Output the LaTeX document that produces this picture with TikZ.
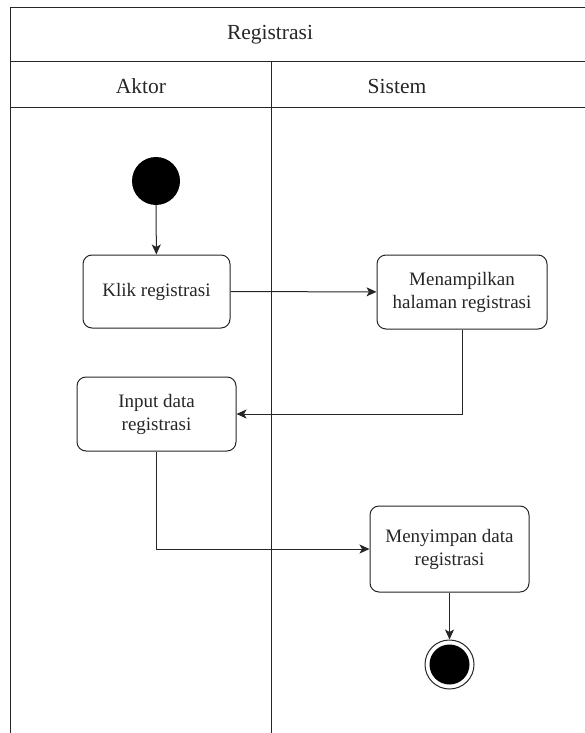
\documentclass[tikz,border=0pt]{standalone}
\usepackage{fontspec}
\setmainfont{Liberation Serif}
\usetikzlibrary{arrows.meta}

\begin{document}
\begin{tikzpicture}[x=1pt,y=-1pt,
  lane/.style={line width=1pt, draw=black!85},
  head/.style={font=\fontsize{21.5}{25}\selectfont, text=black!85, inner sep=0pt},
  act/.style={draw=black!85, line width=1pt, rounded corners=9pt, align=center,
    font=\fontsize{19}{23}\selectfont, text=black!85, inner sep=0pt, fill=white},
  flow/.style={line width=1pt, draw=black!85,
    -{Stealth[length=10pt,width=9pt,inset=2.5pt]}},
  initial/.style={circle, fill=black, minimum size=48pt, inner sep=0pt},
  final/.style={circle, draw=black!85, line width=1pt, fill=white,
    minimum size=49pt, inner sep=0pt}
]
\useasboundingbox (0,0) rectangle (585,733);

% swimlane frame
\draw[lane] (10,733) -- (10,8) -- (585,8);
\draw[lane] (10,62) -- (585,62);
\draw[lane] (10,108) -- (585,108);
\draw[lane] (271,62) -- (271,733);

\node[head] (title) at (270,35) {Registrasi};
\node[head] (aktor) at (141,86) {Aktor};
\node[head] (sistem) at (397,86) {Sistem};

% activities
\node[initial] (start) at (156,181) {};
\node[act, minimum width=147pt, minimum height=73pt] (klik) at (156.5,291.5) {Klik registrasi};
\node[act, minimum width=170pt, minimum height=74pt] (tampil) at (462,292) {Menampilkan\\halaman registrasi};
\node[act, minimum width=159pt, minimum height=74pt] (input) at (156.5,414) {Input data\\registrasi};
\node[act, minimum width=159pt, minimum height=86pt] (simpan) at (449.5,549) {Menyimpan data\\registrasi};
\node[final] (end) at (449.5,664.5) {};
\fill[black] (end.center) circle[radius=20pt];

% control flow
\draw[flow] (start) -- (klik);
\draw[flow] (klik) -- (tampil);
\draw[flow] (tampil.south) |- (input.east);
\draw[flow] (input.south) |- (simpan.west);
\draw[flow] (simpan) -- (end);
\end{tikzpicture}
\end{document}
